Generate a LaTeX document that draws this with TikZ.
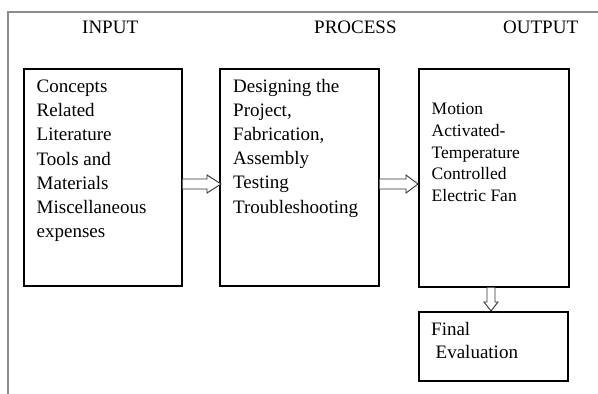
\documentclass[tikz,border=0pt]{standalone}
\usepackage{fontspec}
\setmainfont{Liberation Serif}
\usetikzlibrary{calc}
\begin{document}
\begin{tikzpicture}[x=1pt,y=-1pt,
  frameline/.style={draw=black!45,line width=1.3pt},
  stagebox/.style={draw,line width=1.6pt,anchor=north west,inner sep=0pt},
  heading/.style={anchor=base west,inner sep=0pt,font=\fontsize{19}{24}\selectfont},
  boxtext/.style={anchor=base west,inner sep=0pt,align=left,font=\fontsize{19}{24.2}\selectfont},
  smalltext/.style={anchor=base west,inner sep=0pt,align=left,font=\fontsize{17.5}{21.8}\selectfont},
  arrowline/.style={draw=black!80,line width=0.9pt,line join=miter,fill=white}
]
\useasboundingbox (0,0) rectangle (598,394);
% outer frame (left and top edges)
\draw[frameline] (8,394) -- (8,12) -- (598,12);

% column headings
\node[heading] (hin) at (82,33) {INPUT};
\node[heading] (hpro) at (314,33) {PROCESS};
\node[heading] (hout) at (503,33) {OUTPUT};

% stage boxes
\node[stagebox,minimum width=158pt,minimum height=217pt] (input) at (23,68) {};
\node[stagebox,minimum width=159pt,minimum height=217pt] (process) at (219,68) {};
\node[stagebox,minimum width=150pt,minimum height=218pt] (output) at (418,68) {};
\node[stagebox,minimum width=149pt,minimum height=69pt] (eval) at (418,311) {};

% box contents (anchored at the baseline of the last line)
\node[boxtext] (tin) at (36.5,237.7) {Concepts\\Related\\Literature\\Tools and\\Materials\\Miscellaneous\\expenses};
\node[boxtext] (tpro) at (233,213) {Designing the\\Project,\\Fabrication,\\Assembly\\Testing\\Troubleshooting};
\node[smalltext] (tout) at (431.5,201.7) {Motion\\Activated-\\Temperature\\Controlled\\Electric Fan};
\node[boxtext,font=\fontsize{19}{23}\selectfont] (teval) at (431,358) {Final\\\hspace*{4.5pt}Evaluation};

% connectors: hollow block arrows
\coordinate (a1s) at (input.east |- 0,184);
\coordinate (a1e) at (process.west |- 0,184);
\coordinate (a2s) at (process.east |- 0,184);
\coordinate (a2e) at (output.west |- 0,184);
\coordinate (a3s) at (output.south -| 491,0);
\coordinate (a3e) at (eval.north -| 491,0);

\draw[arrowline] (a1s) ++(0,-5) -- ($(a1e)+(-12,-5)$) -- ($(a1e)+(-12,-9)$) -- ($(a1e)+(2,0)$)
  -- ($(a1e)+(-12,9)$) -- ($(a1e)+(-12,5)$) -- ($(a1s)+(0,5)$);
\draw[arrowline] (a2s) ++(0,-5) -- ($(a2e)+(-12,-5)$) -- ($(a2e)+(-12,-9)$) -- (a2e)
  -- ($(a2e)+(-12,9)$) -- ($(a2e)+(-12,5)$) -- ($(a2s)+(0,5)$);
\draw[arrowline] (a3s) ++(-4,0) -- ($(a3e)+(-4,-9)$) -- ($(a3e)+(-7,-9)$) -- (a3e)
  -- ($(a3e)+(7,-9)$) -- ($(a3e)+(4,-9)$) -- ($(a3s)+(4,0)$);
\end{tikzpicture}
\end{document}
